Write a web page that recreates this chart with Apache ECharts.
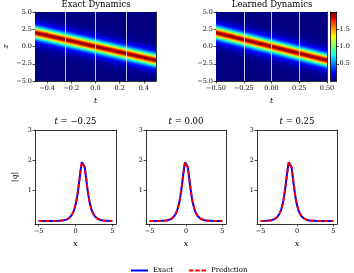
<!DOCTYPE html>
<html><head><meta charset="utf-8">
<script src="https://cdn.jsdelivr.net/npm/echarts@6/dist/echarts.min.js"></script>
<style>html,body{margin:0;padding:0;background:#fff}#c{width:354px;height:273px}</style>
</head><body><div id="c"></div>
<script>
// ---- data ----
// |q| profile as a function of distance from the soliton centre (step 0.125)
const profileStep = 0.125;
const exactProfile = [2.000,1.939,1.774,1.545,1.296,1.059,0.850,0.675,0.532,0.417,0.326,0.255,0.199,0.155,0.121,0.094,0.073,0.057,0.044,0.035,0.027,0.021,0.016,0.013,0.010,0.008,0.006,0.005,0.004,0.003,0.002,0.002,0.001,0.001,0.001,0.001,0.000,0.000,0.000,0.000,0.000];
const predictedProfile = [2.000,1.938,1.773,1.545,1.296,1.059,0.850,0.675,0.532,0.417,0.326,0.255,0.199,0.155,0.121,0.094,0.073,0.057,0.044,0.035,0.027,0.021,0.016,0.013,0.010,0.008,0.006,0.005,0.004,0.003,0.002,0.002,0.001,0.001,0.001,0.001,0.000,0.000,0.000,0.000,0.000];
// time columns of the heatmaps and the band centre z at each time
const heatTimes = [-0.5,-0.46875,-0.4375,-0.40625,-0.375,-0.34375,-0.3125,-0.28125,-0.25,-0.21875,-0.1875,-0.15625,-0.125,-0.09375,-0.0625,-0.03125,0,0.03125,0.0625,0.09375,0.125,0.15625,0.1875,0.21875,0.25,0.28125,0.3125,0.34375,0.375,0.40625,0.4375,0.46875,0.5];
const bandCenters = [2,1.875,1.75,1.625,1.5,1.375,1.25,1.125,1,0.875,0.75,0.625,0.5,0.375,0.25,0.125,0,-0.125,-0.25,-0.375,-0.5,-0.625,-0.75,-0.875,-1,-1.125,-1.25,-1.375,-1.5,-1.625,-1.75,-1.875,-2];
const snapshotTimes = [-0.25, 0, 0.25];
const snapshotLabels = ['\u22120.25', '0.00', '0.25'];
const snapshotCenters = [1, 0, -1];
const heatTicksLeft = [-0.4,-0.2,0,0.2,0.4];
const heatTicksRight = [-0.5,-0.25,0,0.25,0.5];
const zTicks = [-5,-2.5,0,2.5,5];
const cbarTicks = [0.5,1.0,1.5];
const xTicks = [-5,0,5];
const qTicks = [1,2,3];

// ---- helpers ----
const FONT = 'DejaVu Serif';
const jetStops = [[0,[0,0,128]],[0.11,[0,0,255]],[0.125,[0,0,255]],[0.34,[0,219,255]],[0.35,[0,230,247]],[0.375,[21,255,226]],[0.64,[239,255,8]],[0.65,[247,245,0]],[0.66,[255,236,0]],[0.89,[255,19,0]],[0.91,[232,0,0]],[1,[128,0,0]]];
function jet(f){
  f = Math.max(0, Math.min(1, f));
  for (let i=1;i<jetStops.length;i++){
    const a=jetStops[i-1], b=jetStops[i];
    if (f<=b[0]){
      const r=(f-a[0])/((b[0]-a[0])||1);
      const c=a[1].map((v,k)=>Math.round(v+(b[1][k]-v)*r));
      return 'rgb('+c.join(',')+')';
    }
  }
  return 'rgb(128,0,0)';
}
function prof(arr, d){
  const k = Math.round(Math.abs(d)/profileStep);
  return arr[Math.min(k, arr.length-1)];
}
const fmt = (dec)=> (v)=> (v<0?'\u2212':'') + Math.abs(v).toFixed(dec);
const VMAX = 2;
const nZ = 80; // sample rows from z=-5 to z=5
function heatCanvas(arr){
  const cv=document.createElement('canvas');
  cv.width=heatTimes.length; cv.height=nZ+1;
  const ctx=cv.getContext('2d');
  heatTimes.forEach((t,i)=>{
    for(let j=0;j<=nZ;j++){
      const z=5-j*profileStep;
      ctx.fillStyle=jet(prof(arr, z-bandCenters[i])/VMAX);
      ctx.fillRect(i,j,1,1);
    }
  });
  return cv;
}
function lineData(arr, c){
  const out=[];
  for(let j=0;j<=nZ;j++){ const x=-5+j*profileStep; out.push([x, prof(arr, x-c)]); }
  return out;
}
const dt = heatTimes[1]-heatTimes[0];
function makeRenderHeat(cv){
  return function(params, api){
    const p1=api.coord([heatTimes[0]-dt/2, 5+profileStep/2]);
    const p2=api.coord([heatTimes[heatTimes.length-1]+dt/2, -5-profileStep/2]);
    return {type:'image', style:{image:cv, x:p1[0], y:p1[1], width:p2[0]-p1[0], height:p2[1]-p1[1]}};
  };
}

const grids = [
  {left:35, top:12, width:121, height:69},
  {left:216, top:12, width:111, height:69},
  {left:330.5, top:12, width:6, height:69},
  {left:35, top:130, width:81, height:94},
  {left:146, top:130, width:80, height:94},
  {left:257, top:130, width:80, height:94}
];
const lbl = {fontFamily:FONT, fontSize:6.5, color:'#000'};
const line = {show:true, onZero:false, lineStyle:{color:'#000', width:0.8}};
const tick = (vals)=>({show:true, inside:false, length:2.5, lineStyle:{color:'#000', width:0.7}, customValues:vals});
function mainX(g, min, max, ticks, dec, name){
  return {type:'value', gridIndex:g, min, max, position:'bottom', axisLine:line, axisTick:tick(ticks), splitLine:{show:false},
    axisLabel:Object.assign({customValues:ticks, formatter:fmt(dec), margin:4}, lbl),
    name:name||'', nameLocation:'middle', nameGap:16, nameTextStyle:{fontFamily:FONT, fontSize:8, fontStyle:'italic', color:'#000'}};
}
function mainY(g, min, max, ticks, dec, name, pos){
  return {type:'value', gridIndex:g, min, max, position:pos||'left', axisLine:line, axisTick:tick(ticks), splitLine:{show:false},
    axisLabel:Object.assign({customValues:ticks, formatter:fmt(dec), margin:3}, lbl),
    name:name||'', nameLocation:'middle', nameGap:name==='|q|'?16:25, nameRotate:90, nameTextStyle:{fontFamily:FONT, fontSize:8, fontStyle:'italic', color:'#000'}};
}
function frameAxis(kind, g, pos, min, max){
  return {type:'value', gridIndex:g, position:pos, min, max, axisLine:line, axisTick:{show:false}, axisLabel:{show:false}, splitLine:{show:false}};
}
const xAxis = [
  mainX(0,-0.5,0.5,heatTicksLeft,1,'t'),
  mainX(1,-0.5,0.5,heatTicksRight,2,'t'),
  frameAxis('x',2,'bottom',0,1),
  mainX(3,-5.5,5.5,xTicks,0,'x'),
  mainX(4,-5.5,5.5,xTicks,0,'x'),
  mainX(5,-5.5,5.5,xTicks,0,'x'),
  frameAxis('x',0,'top',-0.5,0.5),
  frameAxis('x',1,'top',-0.5,0.5),
  frameAxis('x',2,'top',0,1),
  frameAxis('x',3,'top',-5.5,5.5),
  frameAxis('x',4,'top',-5.5,5.5),
  frameAxis('x',5,'top',-5.5,5.5)
];
const yAxis = [
  mainY(0,-5,5,zTicks,1,'z'),
  mainY(1,-5,5,zTicks,1,''),
  mainY(2,0,VMAX,cbarTicks,1,'','right'),
  mainY(3,-0.1,3,qTicks,0,'|q|'),
  mainY(4,-0.1,3,qTicks,0,''),
  mainY(5,-0.1,3,qTicks,0,''),
  frameAxis('y',0,'right',-5,5),
  frameAxis('y',1,'right',-5,5),
  frameAxis('y',2,'left',0,VMAX),
  frameAxis('y',3,'right',-0.1,3),
  frameAxis('y',4,'right',-0.1,3),
  frameAxis('y',5,'right',-0.1,3)
];
const snapLines = {silent:true, symbol:['none','none'], label:{show:false}, animation:false,
  lineStyle:{color:'rgba(255,255,255,0.75)', width:1, type:'solid'},
  data: snapshotTimes.map(t=>({xAxis:t}))};
const series = [
  {type:'custom', xAxisIndex:0, yAxisIndex:0, clip:true, renderItem:makeRenderHeat(heatCanvas(exactProfile)), data:[[0,0]], encode:{x:0,y:1}, markLine:snapLines, silent:true},
  {type:'custom', xAxisIndex:1, yAxisIndex:1, clip:true, renderItem:makeRenderHeat(heatCanvas(predictedProfile)), data:[[0,0]], encode:{x:0,y:1}, markLine:snapLines, silent:true}
];
snapshotCenters.forEach((c,i)=>{
  series.push({type:'line', name:'Exact', xAxisIndex:3+i, yAxisIndex:3+i, data:lineData(exactProfile,c), showSymbol:false, symbol:'none',
    lineStyle:{color:'#0000ff', width:2}, itemStyle:{color:'#0000ff'}, z:2});
  series.push({type:'line', name:'Prediction', xAxisIndex:3+i, yAxisIndex:3+i, data:lineData(predictedProfile,c), showSymbol:false, symbol:'none',
    lineStyle:{color:'#ff0000', width:2, type:[4,3]}, itemStyle:{color:'#ff0000'}, z:3});
});
const gradStops = jetStops.map(s=>({offset:s[0], color:'rgb('+s[1].join(',')+')'}));
const titleFont = {fontFamily:FONT, fontSize:8.5, fill:'#000'};
const graphic = [
  {type:'rect', left:330.5, top:12, z:0, shape:{width:6, height:69}, style:{fill:new echarts.graphic.LinearGradient(0,1,0,0,gradStops)}},
  {type:'text', x:96, y:5, style:Object.assign({text:'Exact Dynamics', textAlign:'center', textVerticalAlign:'middle'}, titleFont)},
  {type:'text', x:272, y:5, style:Object.assign({text:'Learned Dynamics', textAlign:'center', textVerticalAlign:'middle'}, titleFont)}
];
const centersX = [75.5, 186, 297];
snapshotLabels.forEach((s,i)=>{
  graphic.push({type:'text', x:centersX[i], y:122, style:Object.assign({text:'{i|t} = '+s, textAlign:'center', textVerticalAlign:'middle',
    rich:{i:{fontFamily:FONT, fontSize:8.5, fontStyle:'italic'}}}, titleFont)});
});
const chart = echarts.init(document.getElementById('c'), null, {renderer:'canvas'});
chart.setOption({
  animation:false,
  backgroundColor:'#fff',
  grid:grids, xAxis, yAxis, series, graphic,
  legend:{left:126, top:262, itemWidth:17, itemHeight:2, itemGap:16,
    textStyle:{fontFamily:FONT, fontSize:7, color:'#000'},
    data:[
      {name:'Exact', icon:'path://M0,0H17V2H0Z', itemStyle:{color:'#0000ff'}},
      {name:'Prediction', icon:'path://M0,0H4.5V2H0Z M6.25,0H10.75V2H6.25Z M12.5,0H17V2H12.5Z', itemStyle:{color:'#ff0000'}}
    ]}
});
</script></body></html>
